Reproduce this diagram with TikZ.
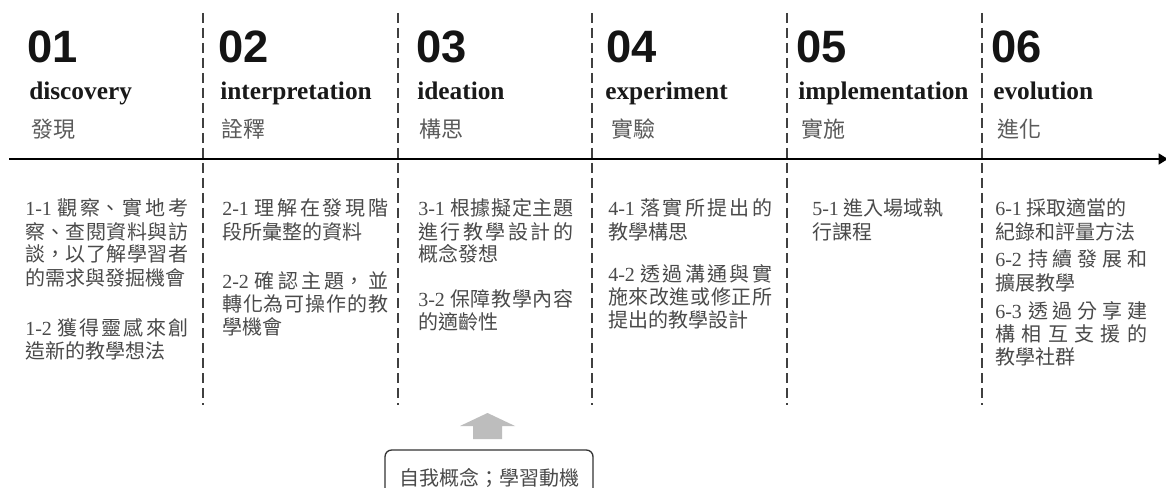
\documentclass[tikz,border=0pt]{standalone}
\usepackage{fontspec}
\setmainfont{Liberation Serif}
\newfontfamily\cjk{Noto Sans CJK TC}
\newfontfamily\numfont{Liberation Sans}
\usetikzlibrary{arrows.meta}
\XeTeXlinebreaklocale "zh"
\XeTeXlinebreakskip=0pt plus 8pt
\definecolor{bodygray}{HTML}{4A4A4A}
\definecolor{headgray}{HTML}{5A5A5A}
\definecolor{sepgray}{HTML}{404040}
\definecolor{arrowgray}{HTML}{BDBDBD}
\definecolor{boxgray}{HTML}{333333}
\begin{document}
\begin{tikzpicture}[x=0.75pt,y=-0.75pt,
  num/.style={anchor=base west, inner sep=0pt, font=\numfont\bfseries\fontsize{34}{36}\selectfont, text=black!92},
  eng/.style={anchor=base west, inner sep=0pt, font=\bfseries\fontsize{19}{22}\selectfont, text=black!90},
  zh/.style={anchor=base west, inner sep=0pt, font=\cjk\fontsize{16.5}{20}\selectfont, text=headgray},
  para/.style={anchor=base west, inner sep=0pt, align=justify, text width=#1, font=\fontsize{15}{17.25}\selectfont, text=bodygray},
  sepline/.style={draw=sepgray, line width=1.5pt, dash pattern=on 7.5pt off 3.75pt},
  axis/.style={draw=black, line width=2.2pt, -{Triangle[length=7pt,width=8pt]}},
  motbox/.style={draw=boxgray, line width=1pt, rounded corners=5pt, minimum width=156pt, minimum height=42pt, inner sep=0pt, font=\cjk\fontsize{15}{18}\selectfont, text=bodygray}
]
\clip (0,0) rectangle (1166,488);
\fill[white] (0,0) rectangle (1166,488);

% separators
\foreach \i/\x in {1/203,2/398,3/592,4/787,5/982}{
  \coordinate (st\i) at (\x,13);
  \coordinate (sb\i) at (\x,405);
  \draw[sepline] (st\i) -- (sb\i);
}

% axis
\coordinate (axL) at (9,159);
\coordinate (axR) at (1168,159);
\draw[axis] (axL) -- (axR);

% headings
\node[num] (n1) at (27,63) {01};
\node[num] (n2) at (218,63) {02};
\node[num] (n3) at (416,63) {03};
\node[num] (n4) at (606,63) {04};
\node[num] (n5) at (796,63) {05};
\node[num] (n6) at (991,63) {06};

\node[eng] (e1) at (29,100) {discovery};
\node[eng] (e2) at (220,100) {interpretation};
\node[eng] (e3) at (417,100) {ideation};
\node[eng] (e4) at (605,100) {experiment};
\node[eng] (e5) at (798,100) {implementation};
\node[eng] (e6) at (993,100) {evolution};

\node[zh] (c1) at (31,138) {發現};
\node[zh] (c2) at (221,138) {詮釋};
\node[zh] (c3) at (419,138) {構思};
\node[zh] (c4) at (611,138) {實驗};
\node[zh] (c5) at (801,138) {實施};
\node[zh] (c6) at (997,138) {進化};

% body paragraphs
\node[para=122.3pt] (p11) at (25,216) {1-1 {\cjk 觀察、實地考\linebreak 察、查閱資料與訪\linebreak 談，以了解學習者\linebreak 的需求與發掘機會}};
\node[para=122.3pt] (p12) at (25,335) {1-2 {\cjk 獲得靈感來創\linebreak 造新的教學想法}};

\node[para=124.5pt] (p21) at (222,216) {2-1 {\cjk 理解在發現階\linebreak 段所彙整的資料}};
\node[para=124.5pt] (p22) at (222,288) {2-2 {\cjk 確認主題，並\linebreak 轉化為可操作的教\linebreak 學機會}};

\node[para=116.3pt] (p31) at (418,216) {3-1 {\cjk 根據擬定主題\linebreak 進行教學設計的\linebreak 概念發想}};
\node[para=116.3pt] (p32) at (418,306) {3-2 {\cjk 保障教學內容\linebreak 的適齡性}};

\node[para=123pt] (p41) at (608,216) {4-1 {\cjk 落實所提出的\linebreak 教學構思}};
\node[para=123pt] (p42) at (608,281) {4-2 {\cjk 透過溝通與實\linebreak 施來改進或修正所\linebreak 提出的教學設計}};

\node[para=120pt] (p51) at (812,216) {5-1 {\cjk 進入場域執\\行課程}};

\node[para=114pt] (p61) at (995,216) {6-1 {\cjk 採取適當的\\紀錄和評量方法}};
\node[para=114pt] (p62) at (995,267) {6-2 {\cjk 持續發展和\linebreak 擴展教學}};
\node[para=114pt] (p63) at (995,318) {6-3 {\cjk 透過分享建\linebreak 構相互支援的\linebreak 教學社群}};

% bottom box and arrow
\node[motbox] (mot) at (489,478) {自我概念；學習動機};
\coordinate (arrtip) at (487.5,413);
\fill[arrowgray] (arrtip) -- ++(27.5,13) -- ++(-13,0) -- ++(0,13) -- ++(-29,0) -- ++(0,-13) -- ++(-13,0) -- cycle;
\end{tikzpicture}
\end{document}
